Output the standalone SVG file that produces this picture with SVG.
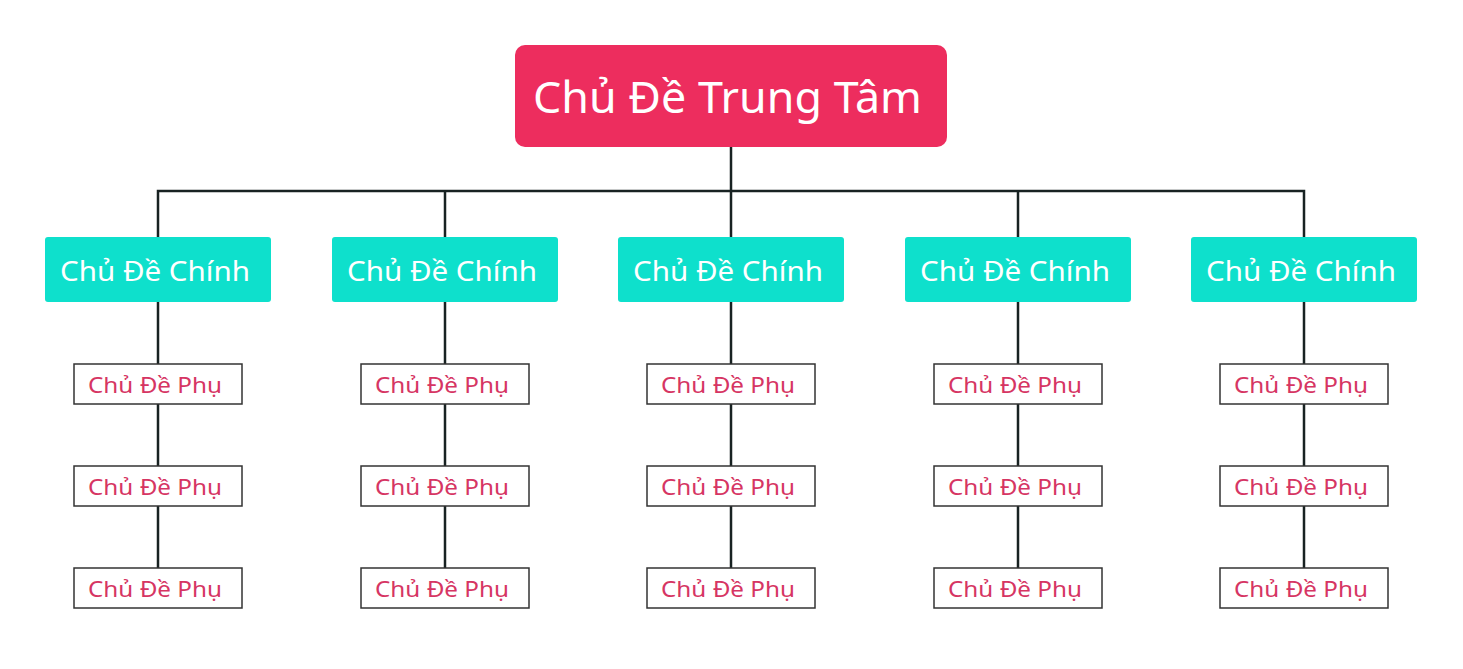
<svg xmlns="http://www.w3.org/2000/svg" width="1463" height="669" viewBox="0 0 1463 669">
<style>
.t{font-family:"Noto Sans","Open Sans","Liberation Sans",sans-serif;text-anchor:middle;dominant-baseline:central}
.c{fill:#ED2D5E}
.m{fill:#0EE0CC}
.s{fill:#fff;stroke:#333;stroke-width:1.5}
.ct{fill:#fff;font-size:44px}
.mt{fill:#fff;font-size:28px}
.st{fill:#D63563;font-size:22px}
.ln{fill:none;stroke:#182222;stroke-width:2.5}
</style>
<rect width="1463" height="669" fill="#fff"/>
<g id="connectors" class="ln">
<path d="M731 147V191M156.75 191H1305.25M158 191V237M445 191V237M731 191V237M1018 191V237M1304 191V237"/>
<path d="M158 302V364M158 404V466M158 506V568"/>
<path d="M445 302V364M445 404V466M445 506V568"/>
<path d="M731 302V364M731 404V466M731 506V568"/>
<path d="M1018 302V364M1018 404V466M1018 506V568"/>
<path d="M1304 302V364M1304 404V466M1304 506V568"/>
</g>
<g id="center"><rect class="c" x="515" y="45" width="432" height="102" rx="10"/><text class="t ct" x="727.5" y="96" textLength="389" lengthAdjust="spacingAndGlyphs">Chủ Đề Trung Tâm</text></g>
<g id="main1"><rect class="m" x="45" y="237" width="226" height="65" rx="3"/><text class="t mt" x="155" y="270" textLength="190" lengthAdjust="spacingAndGlyphs">Chủ Đề Chính</text></g>
<g id="main2"><rect class="m" x="332" y="237" width="226" height="65" rx="3"/><text class="t mt" x="442" y="270" textLength="190" lengthAdjust="spacingAndGlyphs">Chủ Đề Chính</text></g>
<g id="main3"><rect class="m" x="618" y="237" width="226" height="65" rx="3"/><text class="t mt" x="728" y="270" textLength="190" lengthAdjust="spacingAndGlyphs">Chủ Đề Chính</text></g>
<g id="main4"><rect class="m" x="905" y="237" width="226" height="65" rx="3"/><text class="t mt" x="1015" y="270" textLength="190" lengthAdjust="spacingAndGlyphs">Chủ Đề Chính</text></g>
<g id="main5"><rect class="m" x="1191" y="237" width="226" height="65" rx="3"/><text class="t mt" x="1301" y="270" textLength="190" lengthAdjust="spacingAndGlyphs">Chủ Đề Chính</text></g>
<g id="sub1a"><rect class="s" x="74" y="364" width="168" height="40"/><text class="t st" x="155" y="384" textLength="134" lengthAdjust="spacingAndGlyphs">Chủ Đề Phụ</text></g>
<g id="sub1b"><rect class="s" x="74" y="466" width="168" height="40"/><text class="t st" x="155" y="486" textLength="134" lengthAdjust="spacingAndGlyphs">Chủ Đề Phụ</text></g>
<g id="sub1c"><rect class="s" x="74" y="568" width="168" height="40"/><text class="t st" x="155" y="588" textLength="134" lengthAdjust="spacingAndGlyphs">Chủ Đề Phụ</text></g>
<g id="sub2a"><rect class="s" x="361" y="364" width="168" height="40"/><text class="t st" x="442" y="384" textLength="134" lengthAdjust="spacingAndGlyphs">Chủ Đề Phụ</text></g>
<g id="sub2b"><rect class="s" x="361" y="466" width="168" height="40"/><text class="t st" x="442" y="486" textLength="134" lengthAdjust="spacingAndGlyphs">Chủ Đề Phụ</text></g>
<g id="sub2c"><rect class="s" x="361" y="568" width="168" height="40"/><text class="t st" x="442" y="588" textLength="134" lengthAdjust="spacingAndGlyphs">Chủ Đề Phụ</text></g>
<g id="sub3a"><rect class="s" x="647" y="364" width="168" height="40"/><text class="t st" x="728" y="384" textLength="134" lengthAdjust="spacingAndGlyphs">Chủ Đề Phụ</text></g>
<g id="sub3b"><rect class="s" x="647" y="466" width="168" height="40"/><text class="t st" x="728" y="486" textLength="134" lengthAdjust="spacingAndGlyphs">Chủ Đề Phụ</text></g>
<g id="sub3c"><rect class="s" x="647" y="568" width="168" height="40"/><text class="t st" x="728" y="588" textLength="134" lengthAdjust="spacingAndGlyphs">Chủ Đề Phụ</text></g>
<g id="sub4a"><rect class="s" x="934" y="364" width="168" height="40"/><text class="t st" x="1015" y="384" textLength="134" lengthAdjust="spacingAndGlyphs">Chủ Đề Phụ</text></g>
<g id="sub4b"><rect class="s" x="934" y="466" width="168" height="40"/><text class="t st" x="1015" y="486" textLength="134" lengthAdjust="spacingAndGlyphs">Chủ Đề Phụ</text></g>
<g id="sub4c"><rect class="s" x="934" y="568" width="168" height="40"/><text class="t st" x="1015" y="588" textLength="134" lengthAdjust="spacingAndGlyphs">Chủ Đề Phụ</text></g>
<g id="sub5a"><rect class="s" x="1220" y="364" width="168" height="40"/><text class="t st" x="1301" y="384" textLength="134" lengthAdjust="spacingAndGlyphs">Chủ Đề Phụ</text></g>
<g id="sub5b"><rect class="s" x="1220" y="466" width="168" height="40"/><text class="t st" x="1301" y="486" textLength="134" lengthAdjust="spacingAndGlyphs">Chủ Đề Phụ</text></g>
<g id="sub5c"><rect class="s" x="1220" y="568" width="168" height="40"/><text class="t st" x="1301" y="588" textLength="134" lengthAdjust="spacingAndGlyphs">Chủ Đề Phụ</text></g>
</svg>
